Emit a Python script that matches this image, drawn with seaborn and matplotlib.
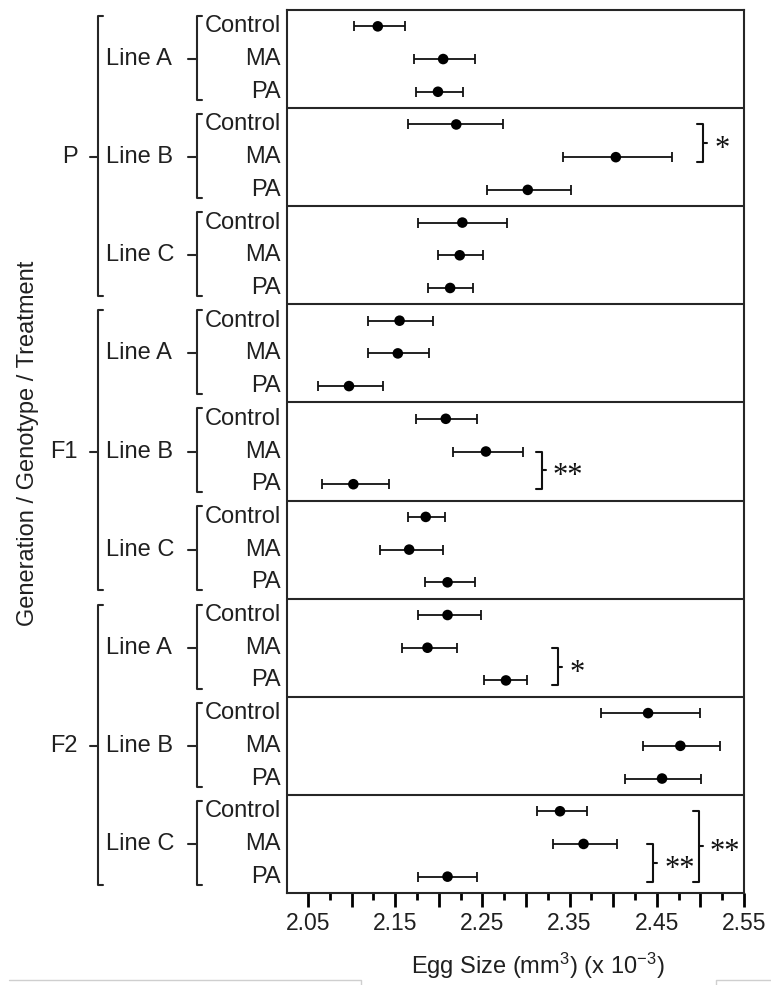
import pandas as pd
import matplotlib
matplotlib.use('Agg')
import matplotlib.pyplot as plt
import seaborn as sns
from matplotlib.lines import Line2D
from matplotlib.transforms import blended_transform_factory

generations = ['P', 'F1', 'F2']
lines = ['Line A', 'Line B', 'Line C']
treatments = ['Control', 'MA', 'PA']

# mean egg size and error-bar ends, row order P/A/Control ... F2/C/PA
egg_mean = [2.130, 2.205, 2.199,
            2.220, 2.403, 2.302,
            2.227, 2.224, 2.213,
            2.155, 2.153, 2.097,
            2.208, 2.254, 2.102,
            2.185, 2.166, 2.210,
            2.210, 2.187, 2.277,
            2.440, 2.477, 2.456,
            2.339, 2.366, 2.210]
egg_low = [2.103, 2.172, 2.174,
           2.165, 2.342, 2.255,
           2.176, 2.199, 2.188,
           2.119, 2.119, 2.062,
           2.174, 2.216, 2.066,
           2.165, 2.133, 2.184,
           2.176, 2.158, 2.252,
           2.386, 2.434, 2.413,
           2.313, 2.331, 2.176]
egg_high = [2.161, 2.242, 2.228,
            2.274, 2.467, 2.352,
            2.278, 2.251, 2.239,
            2.193, 2.189, 2.136,
            2.244, 2.297, 2.143,
            2.207, 2.205, 2.242,
            2.248, 2.221, 2.301,
            2.499, 2.522, 2.501,
            2.370, 2.404, 2.244]

x_major = [2.05, 2.10, 2.15, 2.20, 2.25, 2.30, 2.35, 2.40, 2.45, 2.50, 2.55]
x_labels = ['2.05', '', '2.15', '', '2.25', '', '2.35', '', '2.45', '', '2.55']
x_minor = [2.075, 2.125, 2.175, 2.225, 2.275, 2.325, 2.375, 2.425, 2.475, 2.525]

# significance brackets: first row, last row, label
sig_rows = [(3, 4, '*'), (13, 14, '**'), (19, 20, '*'), (25, 26, '**'), (24, 26, '**')]
sig_x = [2.503, 2.318, 2.337, 2.446, 2.498]

sns.set_style('ticks')
plt.rcParams['font.family'] = ['Liberation Sans', 'DejaVu Sans']
plt.rcParams['mathtext.fontset'] = 'custom'
plt.rcParams['mathtext.rm'] = 'Liberation Sans'
plt.rcParams['mathtext.it'] = 'Liberation Sans'
plt.rcParams['xtick.bottom'] = True

TXT = '#202020'
LN = '#262626'
W, H = 771, 985


def main():
    rows = []
    for g in generations:
        for l in lines:
            for t in treatments:
                rows.append((g, l, t))
    df = pd.DataFrame(rows, columns=['generation', 'line', 'treatment'])
    df['row'] = range(len(df))
    df['mean'] = egg_mean
    df['low'] = egg_low
    df['high'] = egg_high

    fig = plt.figure(figsize=(W / 100, H / 100), dpi=100)
    ax = fig.add_axes([287 / W, 1 - 893 / H, 457 / W, 883 / H])

    ax.errorbar(df['mean'], df['row'],
                xerr=[df['mean'] - df['low'], df['high'] - df['mean']],
                fmt='none', ecolor='#111111', elinewidth=1.3, capsize=3.8, capthick=1.3)
    sns.scatterplot(data=df, x='mean', y='row', color='black', s=58,
                    edgecolor='none', ax=ax, zorder=3)

    for k in range(1, 9):
        ax.axhline(k * 3 - 0.5, color=LN, lw=1.5)

    ax.set_ylim(26.5, -0.5)
    ax.set_xlim(2.0259, 2.55)
    ax.set_yticks([])
    ax.set_xticks(x_major)
    ax.set_xticklabels(x_labels)
    ax.set_xticks(x_minor, minor=True)
    ax.tick_params(axis='x', which='major', direction='out', length=10, width=2.0,
                   color='black', labelsize=16.5, labelcolor=TXT, pad=4, bottom=True)
    ax.tick_params(axis='x', which='minor', direction='out', length=5, width=2.0,
                   color='black', bottom=True)
    for s in ax.spines.values():
        s.set_visible(True)
        s.set_color(LN)
        s.set_linewidth(1.5)
    ax.set_xlabel('')
    ax.set_ylabel('')

    # significance brackets
    ppx = (2.55 - 2.0259) / 457
    for (r1, r2, lab), xb in zip(sig_rows, sig_x):
        top, bot = r1 + 0.0, r2 + 0.15
        mid = (top + bot) / 2
        ax.plot([xb - 6 * ppx, xb, xb, xb - 6 * ppx], [top, top, bot, bot],
                color='#111111', lw=1.5, clip_on=False)
        ax.plot([xb, xb + 4 * ppx], [mid, mid], color='#111111', lw=1.5, clip_on=False)
        ax.text(xb + 11 * ppx, mid + 0.2, lab, fontsize=22, family='Liberation Serif',
                ha='left', va='center', color='#111111')

    # hierarchical row labels on the left
    tr = blended_transform_factory(fig.transFigure, ax.transData)
    for i, r in df.iterrows():
        ax.text(281 / W, r['row'], r['treatment'], transform=tr, ha='right',
                va='center', fontsize=17, color=TXT)
    for k in range(9):
        top, bot, mid = k * 3 - 0.32, k * 3 + 2.25, k * 3 + 1
        ax.plot(pd.Series([202, 197, 197, 202]) / W, [top, top, bot, bot], transform=tr,
                color=LN, lw=1.5, clip_on=False)
        ax.plot(pd.Series([188, 197]) / W, [mid, mid], transform=tr, color=LN,
                lw=1.5, clip_on=False)
        ax.text(106 / W, mid, lines[k % 3], transform=tr, ha='left', va='center',
                fontsize=17, color=TXT)
    for k, g in enumerate(generations):
        top, bot, mid = k * 9 - 0.32, k * 9 + 8.25, k * 9 + 4
        ax.plot(pd.Series([103, 98, 98, 103]) / W, [top, top, bot, bot], transform=tr,
                color=LN, lw=1.5, clip_on=False)
        ax.plot(pd.Series([90, 98]) / W, [mid, mid], transform=tr, color=LN,
                lw=1.5, clip_on=False)
        ax.text(78 / W, mid, g, transform=tr, ha='right', va='center',
                fontsize=17, color=TXT)

    fig.text(28 / W, 1 - 443 / H, 'Generation / Genotype / Treatment', rotation=90,
             ha='center', va='center', fontsize=17, color=TXT)
    fig.text(538 / W, 1 - 966 / H, 'Egg Size (mm$^3$) (x 10$^{-3}$)',
             ha='center', va='center', fontsize=17, color=TXT)

    # light frame remnants along the bottom edge
    fig.add_artist(Line2D([9 / W, 361 / W, 361 / W], [1 - 980 / H] * 2 + [0],
                          color='#cfcfcf', lw=1.0))
    fig.add_artist(Line2D([1, 716 / W, 716 / W], [1 - 980 / H] * 2 + [0],
                          color='#cfcfcf', lw=1.0))

    fig.savefig('out.png', dpi=100)


if __name__ == '__main__':
    main()
